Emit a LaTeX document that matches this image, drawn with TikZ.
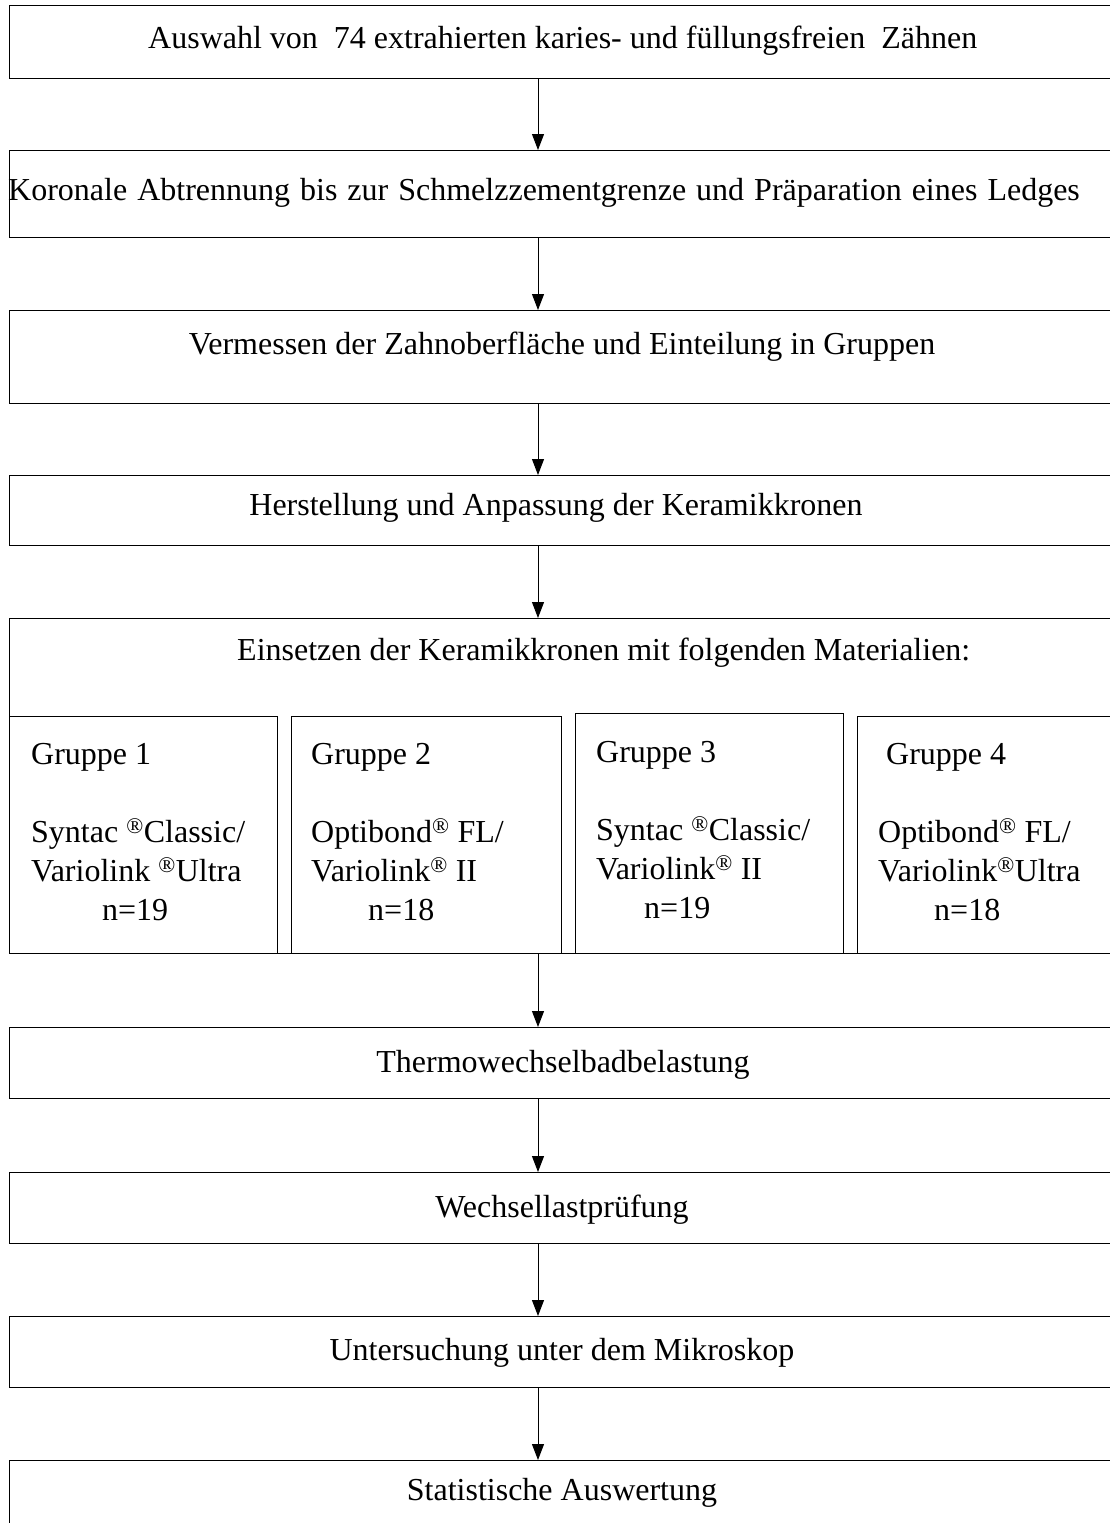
\documentclass[tikz,border=0pt]{standalone}
\usepackage{fontspec}
\setmainfont{Liberation Serif}
\usetikzlibrary{arrows.meta}
\newcommand{\reg}{\textsuperscript{\textregistered}}

\begin{document}
\begin{tikzpicture}[x=1pt,y=-1pt,>={Triangle[length=16pt,width=12pt]},
    box/.style={draw,line width=1.3pt,anchor=north west,inner sep=0pt},
    txt/.style={inner sep=0pt,font=\fontsize{32pt}{39pt}\selectfont},
    grp/.style={txt,anchor=north west,align=left},
    arr/.style={->,line width=1pt}]
    \useasboundingbox(0,0)rectangle(1110,1523);
    \clip(0,0)rectangle(1110,1523);
    % frames
    \node[box,minimum width=1110pt,minimum height=73pt](f1)at(9,5){};
    \node[box,minimum width=1110pt,minimum height=87pt](f2)at(9,150){};
    \node[box,minimum width=1110pt,minimum height=93pt](f3)at(9,310){};
    \node[box,minimum width=1110pt,minimum height=70pt](f4)at(9,475){};
    \node[box,minimum width=1110pt,minimum height=335pt](f5)at(9,618){};
    \node[box,minimum width=1110pt,minimum height=71pt](f6)at(9,1027){};
    \node[box,minimum width=1110pt,minimum height=71pt](f7)at(9,1172){};
    \node[box,minimum width=1110pt,minimum height=71pt](f8)at(9,1316){};
    \node[box,minimum width=1110pt,minimum height=90pt](f9)at(9,1460){};
    % groups
    \node[box,minimum width=268pt,minimum height=237pt](g1)at(9,716){};
    \node[box,minimum width=270pt,minimum height=237pt](g2)at(291,716){};
    \node[box,minimum width=268pt,minimum height=240pt](g3)at(575,713){};
    \node[box,minimum width=270pt,minimum height=237pt](g4)at(857,716){};
    % texts
    \node[txt,anchor=west](t1)at(148,41){Auswahl von\ \ 74 extrahierten karies- und füllungsfreien\ \ Zähnen};
    \node[txt,anchor=west](t2)at(8,193){\spaceskip=10pt Koronale Abtrennung bis zur Schmelzzementgrenze und Präparation eines Ledges};
    \node[txt](t3)at(562,347){Vermessen der Zahnoberfläche und Einteilung in Gruppen};
    \node[txt](t4)at(556,508){Herstellung und Anpassung der Keramikkronen};
    \node[txt,anchor=west](t5)at(237,653){Einsetzen der Keramikkronen mit folgenden Materialien:};
    \node[txt](t6)at(563,1065){Thermowechselbadbelastung};
    \node[txt](t7)at(562,1210){Wechsellastprüfung};
    \node[txt](t8)at(562,1353){Untersuchung unter dem Mikroskop};
    \node[txt](t9)at(562,1493){Statistische Auswertung};
    \node[grp](l1)at(31,743){Gruppe 1\\[39pt]Syntac \reg Classic/\\Variolink \reg Ultra\\\hspace*{71pt}n=19};
    \node[grp](l2)at(311,743){Gruppe 2\\[39pt]Optibond\reg\ FL/\\Variolink\reg\ II\\\hspace*{57pt}n=18};
    \node[grp](l3)at(596,741){Gruppe 3\\[39pt]Syntac \reg Classic/\\Variolink\reg\ II\\\hspace*{48pt}n=19};
    \node[grp](l4)at(878,743){\hspace*{8pt}Gruppe 4\\[39pt]Optibond\reg\ FL/\\Variolink\reg Ultra\\\hspace*{56pt}n=18};
    % arrows
    \coordinate(ax)at(538,0);
    \draw[arr](f1.south-|ax)--(f2.north-|ax);
    \draw[arr](f2.south-|ax)--(f3.north-|ax);
    \draw[arr](f3.south-|ax)--(f4.north-|ax);
    \draw[arr](f4.south-|ax)--(f5.north-|ax);
    \draw[arr](f5.south-|ax)--(f6.north-|ax);
    \draw[arr](f6.south-|ax)--(f7.north-|ax);
    \draw[arr](f7.south-|ax)--(f8.north-|ax);
    \draw[arr](f8.south-|ax)--(f9.north-|ax);
\end{tikzpicture}
\end{document}
